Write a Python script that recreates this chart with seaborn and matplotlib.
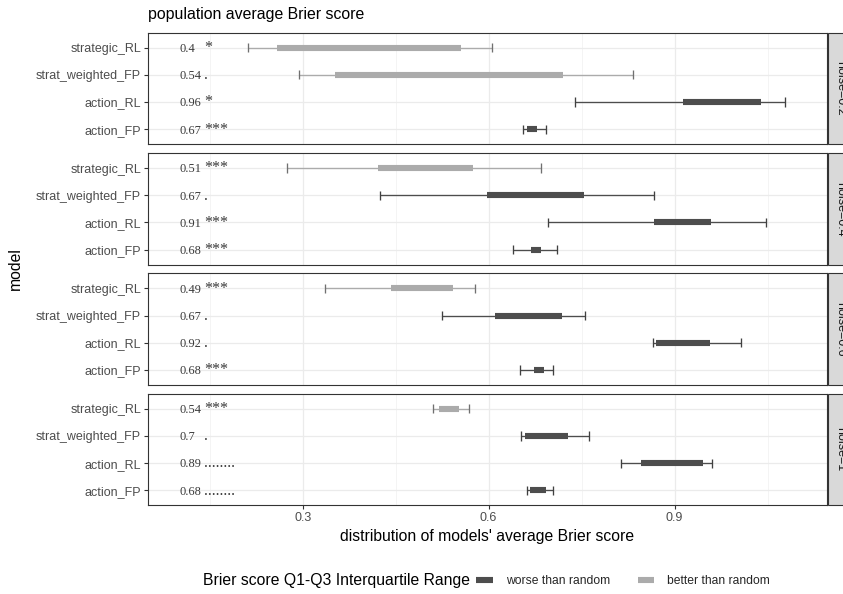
import pandas as pd
import numpy as np
import matplotlib
matplotlib.use('Agg')
import matplotlib.pyplot as plt
from matplotlib.lines import Line2D
from matplotlib.patches import Rectangle
import seaborn as sns

# facet rows and y categories (top to bottom)
noise_levels = ['noise=0.2', 'noise=0.4', 'noise=0.6', 'noise=1']
models = ['strategic_RL', 'strat_weighted_FP', 'action_RL', 'action_FP']

# whisker low / Q1 / Q3 / whisker high per facet (model order as above)
whisk_lo = [[0.211, 0.294, 0.740, 0.656],
            [0.275, 0.424, 0.696, 0.640],
            [0.336, 0.524, 0.865, 0.650],
            [0.510, 0.652, 0.813, 0.662]]
q1 = [[0.258, 0.352, 0.913, 0.662],
      [0.421, 0.597, 0.867, 0.668],
      [0.442, 0.611, 0.870, 0.673],
      [0.520, 0.658, 0.846, 0.667]]
q3 = [[0.556, 0.720, 1.039, 0.678],
      [0.574, 0.754, 0.958, 0.685],
      [0.542, 0.718, 0.957, 0.689],
      [0.552, 0.728, 0.945, 0.692]]
whisk_hi = [[0.605, 0.832, 1.078, 0.692],
            [0.684, 0.867, 1.047, 0.711],
            [0.578, 0.755, 1.007, 0.703],
            [0.568, 0.762, 0.960, 0.703]]
pop_avg = [['0.4', '0.54', '0.96', '0.67'],
           ['0.51', '0.67', '0.91', '0.68'],
           ['0.49', '0.67', '0.92', '0.68'],
           ['0.54', '0.7', '0.89', '0.68']]
signif = [['*', '.', '*', '***'],
          ['***', '.', '***', '***'],
          ['***', '.', '.', '***'],
          ['***', '.', '........', '........']]
group = [['better', 'better', 'worse', 'worse'],
         ['better', 'worse', 'worse', 'worse'],
         ['better', 'worse', 'worse', 'worse'],
         ['better', 'worse', 'worse', 'worse']]

rows = []
for i, nz in enumerate(noise_levels):
    for j, m in enumerate(models):
        rows.append(dict(noise=nz, model=m, pos=j, lo=whisk_lo[i][j], q1=q1[i][j],
                         q3=q3[i][j], hi=whisk_hi[i][j], avg=pop_avg[i][j],
                         sig=signif[i][j], group=group[i][j]))
df = pd.DataFrame(rows)

box_col = {'worse': '#4d4d4d', 'better': '#ababab'}
cap_col = {'worse': '#404040', 'better': '#707070'}

sns.set_theme(style='white')
plt.rcParams['font.family'] = ['Liberation Sans', 'DejaVu Sans']


def draw_rows(data, **kws):
    ax = plt.gca()
    for _, r in data.iterrows():
        c = box_col[r['group']]
        ax.hlines(r['pos'], r['lo'], r['hi'], color=c, lw=0.95, zorder=3)
        ax.vlines([r['lo'], r['hi']], r['pos'] - 0.17, r['pos'] + 0.17,
                  color=cap_col[r['group']], lw=0.95, zorder=3)
        ax.hlines(r['pos'], r['q1'], r['q3'], color=c, lw=4.4, zorder=4,
                  capstyle='butt')
        ax.text(0.102, r['pos'] + 0.16, r['avg'], ha='left', va='baseline',
                fontsize=8.9, color='#3a3a3a', family='Liberation Serif')
        ax.text(0.1405, r['pos'] + 0.16, r['sig'], ha='left', va='baseline',
                fontsize=11.5, color='#3a3a3a', family='Liberation Serif')


g = sns.FacetGrid(df, row='noise', row_order=noise_levels, sharex=True, sharey=True,
                  height=1.5, aspect=5)
g.map_dataframe(draw_rows)
fig = g.figure
fig.set_size_inches(8.43, 5.94)
fig.subplots_adjust(left=148 / 843, right=827 / 843, top=1 - 32.7 / 594,
                    bottom=1 - 505.3 / 594, hspace=0.079)
g.set_titles('')
g.set_axis_labels('', '')

axes = g.axes.flatten()
for k, ax in enumerate(axes):
    ax.set_xlim(0.0505, 1.1457)
    ax.set_ylim(3.55, -0.55)
    ax.set_xticks([0.3, 0.6, 0.9])
    ax.set_xticks([0.15, 0.45, 0.75, 1.05], minor=True)
    ax.set_yticks(range(len(models)))
    ax.set_yticklabels(models)
    ax.grid(True, which='major', color='#ebebeb', lw=0.9, zorder=0)
    ax.grid(True, which='minor', axis='x', color='#f3f3f3', lw=0.6, zorder=0)
    ax.set_axisbelow(True)
    for s in ax.spines.values():
        s.set_visible(True)
        s.set_color('#333333')
        s.set_linewidth(0.8)
    ax.tick_params(axis='y', which='major', left=True, length=3, width=0.8,
                   color='#333333', labelsize=9, labelcolor='#4d4d4d', pad=2)
    if k == len(axes) - 1:
        ax.tick_params(axis='x', which='major', bottom=True, length=3, width=0.8,
                       color='#333333', labelsize=9, labelcolor='#4d4d4d', pad=2)
    else:
        ax.tick_params(axis='x', which='both', bottom=False, labelbottom=False)
    ax.tick_params(axis='x', which='minor', bottom=False)
    # facet strip on the right
    w = 25 / 679
    ax.add_patch(Rectangle((1.0015, 0), w, 1, transform=ax.transAxes, clip_on=False,
                           facecolor='#d9d9d9', edgecolor='#333333', lw=0.8))
    ax.text(1.0015 + w / 2, 0.5, noise_levels[k], transform=ax.transAxes,
            rotation=-90, ha='center', va='center', fontsize=9, color='#1a1a1a')

fig.text(148 / 843, 1 - 15 / 594, 'population average Brier score', ha='left',
         va='center', fontsize=11.4, color='black')
fig.text(487.5 / 843, 1 - 537 / 594, "distribution of models' average Brier score",
         ha='center', va='center', fontsize=11.3, color='black')
fig.text(15 / 843, 1 - 269 / 594, 'model', ha='center', va='center', rotation=90,
         fontsize=11.3, color='black')

# legend at the bottom
fig.text(203 / 843, 1 - 581 / 594, 'Brier score Q1-Q3 Interquartile Range',
         ha='left', va='center', fontsize=11.3, color='black')
handles = [Line2D([], [], color=box_col['worse'], lw=4.4, solid_capstyle='butt'),
           Line2D([], [], color=box_col['better'], lw=4.4, solid_capstyle='butt')]
fig.legend(handles, ['worse than random', 'better than random'], ncol=2,
           loc='center left', bbox_to_anchor=(476 / 843, 1 - 581 / 594),
           frameon=False, fontsize=8.7, handlelength=1.4, handletextpad=1.05,
           columnspacing=2.3, borderpad=0, borderaxespad=0)

fig.savefig('out.png', dpi=100)
